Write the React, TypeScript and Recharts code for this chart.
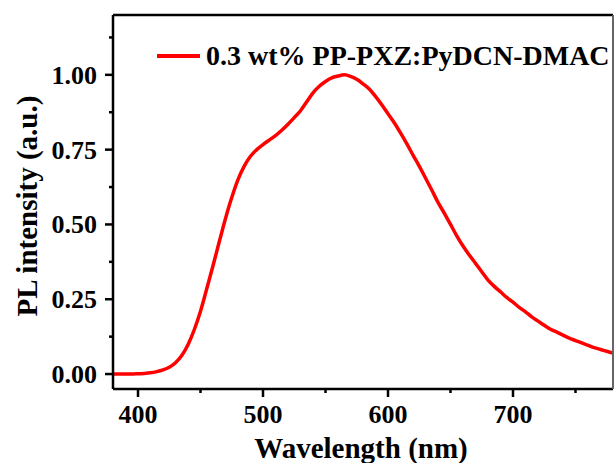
import React from 'react';
import { LineChart, Line, XAxis, YAxis, Legend, Label } from 'recharts';

const FONT = '"Liberation Serif", "Times New Roman", Times, serif';

// emission spectrum, every 5 nm
const wavelengths = [
  380, 385, 390, 395, 400, 405, 410, 415, 420, 425, 430, 435, 440, 445, 450, 455, 460, 465, 470, 475,
  480, 485, 490, 495, 500, 505, 510, 515, 520, 525, 530, 535, 540, 545, 550, 555, 560, 565, 570, 575,
  580, 585, 590, 595, 600, 605, 610, 615, 620, 625, 630, 635, 640, 645, 650, 655, 660, 665, 670, 675,
  680, 685, 690, 695, 700, 705, 710, 715, 720, 725, 730, 735, 740, 745, 750, 755, 760, 765, 770, 775, 780,
];
const intensity = [
  0.0, 0.0, 0.0, 0.0, 0.001, 0.002, 0.004, 0.008, 0.014, 0.023, 0.038, 0.062, 0.098, 0.148, 0.21, 0.285, 0.362, 0.442, 0.52, 0.59,
  0.65, 0.695, 0.728, 0.75, 0.767, 0.782, 0.797, 0.815, 0.835, 0.857, 0.88, 0.91, 0.94, 0.962, 0.978, 0.99, 0.996, 1.0, 0.995, 0.985,
  0.97, 0.953, 0.928, 0.9, 0.87, 0.84, 0.806, 0.77, 0.732, 0.695, 0.655, 0.615, 0.574, 0.538, 0.5, 0.462, 0.428, 0.398, 0.37, 0.342,
  0.314, 0.293, 0.275, 0.256, 0.24, 0.223, 0.208, 0.191, 0.177, 0.163, 0.15, 0.14, 0.13, 0.12, 0.112, 0.104, 0.096, 0.088, 0.082, 0.076, 0.07,
];

const xTicks = [400, 450, 500, 550, 600, 650, 700, 750];
const xMajor = [400, 500, 600, 700];
const yTicks = [0, 0.125, 0.25, 0.375, 0.5, 0.625, 0.75, 0.875, 1.0, 1.125];
const yMajor = [0, 0.25, 0.5, 0.75, 1.0];
const seriesName = '0.3 wt% PP-PXZ:PyDCN-DMAC';

const data = wavelengths.map((wl, i) => ({ wl, pl: intensity[i] }));

function BottomTick(props: any) {
  const { x, y, payload } = props;
  const axisY = y - 8;
  const major = xMajor.includes(payload.value);
  return (
    <g>
      <line x1={x} x2={x} y1={axisY} y2={axisY + (major ? 8 : 4)} stroke="#000" strokeWidth={2.5} />
      {major && (
        <text x={x} y={axisY + 34} textAnchor="middle" fontFamily={FONT} fontWeight="bold" fontSize={26} fill="#000">
          {payload.value}
        </text>
      )}
    </g>
  );
}

function LeftTick(props: any) {
  const { x, y, payload } = props;
  const axisX = x + 8;
  const major = yMajor.some((v) => Math.abs(v - payload.value) < 1e-6);
  return (
    <g>
      <line x1={axisX} x2={axisX - (major ? 8 : 4)} y1={y} y2={y} stroke="#000" strokeWidth={2.5} />
      {major && (
        <text x={axisX - 16} y={y + 9} textAnchor="end" fontFamily={FONT} fontWeight="bold" fontSize={26} fill="#000">
          {payload.value.toFixed(2)}
        </text>
      )}
    </g>
  );
}

function LegendBox() {
  return (
    <div style={{ display: 'flex', alignItems: 'center', fontFamily: FONT, fontWeight: 'bold', fontSize: 28, lineHeight: 1, color: '#000', whiteSpace: 'nowrap' }}>
      <span style={{ display: 'inline-block', width: 43, height: 4, background: '#ff0000', marginRight: 6 }} />
      <span>{seriesName}</span>
    </div>
  );
}

export default function App() {
  return (
    <div style={{ position: 'absolute', left: 0, top: 0, width: 614, height: 463, background: '#fff' }}>
      <LineChart width={614} height={463} data={data} margin={{ top: 11, right: 0, bottom: 0, left: 0 }}>
        <XAxis
          dataKey="wl"
          type="number"
          domain={[380, 780]}
          ticks={xTicks}
          allowDataOverflow
          height={74}
          axisLine={{ stroke: '#000', strokeWidth: 2.5 }}
          tickLine={false}
          tickSize={8}
          tickMargin={0}
          tick={<BottomTick />}
          interval={0}
        >
          <Label
            content={() => (
              <text x={361} y={458} textAnchor="middle" fontFamily={FONT} fontWeight="bold" fontSize={29} fill="#000">
                Wavelength (nm)
              </text>
            )}
          />
        </XAxis>
        <XAxis
          xAxisId="top"
          dataKey="wl"
          type="number"
          orientation="top"
          domain={[380, 780]}
          ticks={xTicks}
          allowDataOverflow
          height={4}
          axisLine={{ stroke: '#000', strokeWidth: 2.5 }}
          tickLine={{ stroke: '#000', strokeWidth: 1.5 }}
          tickSize={3}
          tick={false}
          interval={0}
        />
        <YAxis
          type="number"
          domain={[-0.05, 1.2]}
          ticks={yTicks}
          allowDataOverflow
          width={113}
          axisLine={{ stroke: '#000', strokeWidth: 2.5 }}
          tickLine={false}
          tickSize={8}
          tickMargin={0}
          tick={<LeftTick />}
          interval={0}
        >
          <Label
            content={() => (
              <text x={37} y={206} transform="rotate(-90 37 206)" textAnchor="middle" fontFamily={FONT} fontWeight="bold" fontSize={29} fill="#000">
                PL intensity (a.u.)
              </text>
            )}
          />
        </YAxis>
        <YAxis
          yAxisId="right"
          orientation="right"
          type="number"
          domain={[-0.05, 1.2]}
          width={1}
          axisLine={{ stroke: '#666', strokeWidth: 2 }}
          tickLine={false}
          tick={false}
        />
        <Legend
          layout="horizontal"
          verticalAlign="middle"
          align="center"
          content={<LegendBox />}
          wrapperStyle={{ position: 'absolute', left: 157, top: 42, width: 'auto' }}
        />
        <Line
          xAxisId={0}
          yAxisId={0}
          type="monotone"
          dataKey="pl"
          name={seriesName}
          stroke="#ff0000"
          strokeWidth={3.5}
          dot={false}
          isAnimationActive={false}
        />
      </LineChart>
    </div>
  );
}
